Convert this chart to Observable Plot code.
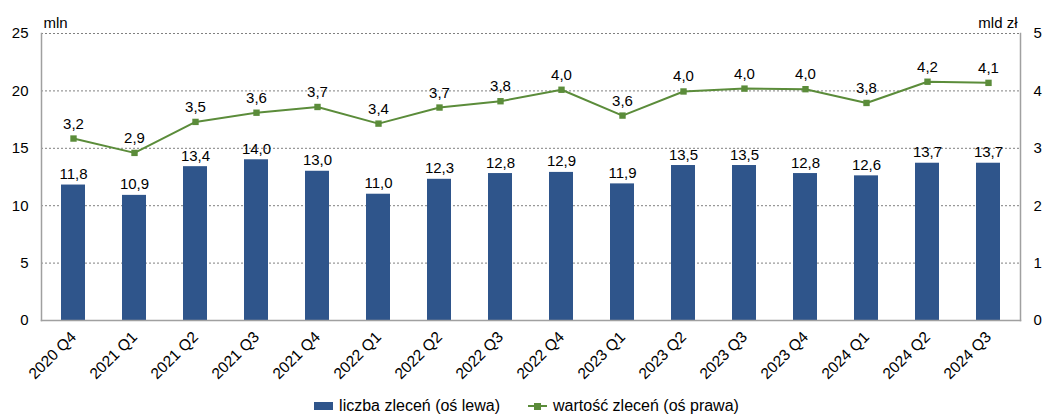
<!DOCTYPE html>
<html>
<head>
<meta charset="utf-8">
<script src="https://cdn.jsdelivr.net/npm/d3@7"></script>
<script src="https://cdn.jsdelivr.net/npm/@observablehq/plot@0.6"></script>
<style>
  body { margin: 0; background: #fff; font-family: "Liberation Sans", Arial, sans-serif; }
  #legend { display: flex; justify-content: center; align-items: center; height: 20px; font-size: 16px; color: #000; padding-left: 8px; }
  .item { display: flex; align-items: center; margin: 0 14px; }
  .sw-bar { width: 19px; height: 8px; background: #2f558b; margin-right: 6px; }
  .sw-line { position: relative; width: 19px; height: 2px; background: #5b8c3a; margin-right: 6px; }
  .sw-line::after { content: ""; position: absolute; left: 6px; top: -2.5px; width: 7px; height: 7px; background: #5b8c3a; }
</style>
</head>
<body>
<div id="chart"></div>
<div id="legend">
  <div class="item"><div class="sw-bar"></div><span>liczba zleceń (oś lewa)</span></div>
  <div class="item"><div class="sw-line"></div><span>wartość zleceń (oś prawa)</span></div>
</div>
<script>
const categories = ["2020 Q4","2021 Q1","2021 Q2","2021 Q3","2021 Q4","2022 Q1","2022 Q2","2022 Q3","2022 Q4","2023 Q1","2023 Q2","2023 Q3","2023 Q4","2024 Q1","2024 Q2","2024 Q3"];
const counts = [11.8,10.9,13.4,14.0,13.0,11.0,12.3,12.8,12.9,11.9,13.5,13.5,12.8,12.6,13.7,13.7];
const values = [3.17,2.92,3.46,3.62,3.72,3.43,3.71,3.82,4.02,3.57,3.99,4.04,4.03,3.79,4.16,4.14];
const leftTicks = [0,5,10,15,20,25];
const rightTicks = [0,1,2,3,4,5];

const ratio = leftTicks[leftTicks.length-1] / rightTicks[rightTicks.length-1];
const data = categories.map((q,i) => ({q, count: counts[i], value: values[i]}));
const fmt = v => v.toFixed(1).replace(".", ",");
const blue = "#2f558b", green = "#5b8c3a", axisGray = "#a0a0a0";

const chart = Plot.plot({
  width: 1045,
  height: 396,
  marginLeft: 41,
  marginRight: 25,
  marginTop: 33,
  marginBottom: 76,
  style: {fontFamily: "'Liberation Sans', Arial, sans-serif", fontSize: "15px", color: "#000", background: "#fff"},
  x: {domain: categories, paddingInner: 0.6, paddingOuter: 0.3, label: null},
  y: {domain: [0, 25], label: null},
  marks: [
    Plot.gridY(leftTicks, {stroke: "#808080", strokeOpacity: 1, strokeDasharray: "2,2", strokeWidth: 1}),
    Plot.barY(data, {x: "q", y: "count", fill: blue}),
    Plot.frame({anchor: "left", stroke: axisGray, strokeWidth: 1.5}),
    Plot.frame({anchor: "right", stroke: axisGray, strokeWidth: 1.5}),
    Plot.frame({anchor: "bottom", stroke: axisGray, strokeWidth: 1.5}),
    Plot.axisY(leftTicks, {anchor: "left", tickSize: 0, tickPadding: 13, label: null, fontSize: 15}),
    Plot.axisY(rightTicks.map(v => v * ratio), {anchor: "right", tickSize: 0, tickPadding: 13, label: null, fontSize: 15, tickFormat: d => String(d / ratio)}),
    Plot.axisX({tickRotate: -45, tickSize: 0, tickPadding: 14, label: null, fontSize: 15.5}),
    Plot.lineY(data, {x: "q", y: d => d.value * ratio, stroke: green, strokeWidth: 2}),
    Plot.dot(data, {x: "q", y: d => d.value * ratio, symbol: "square", fill: green, r: 3.6}),
    Plot.text(data, {x: "q", y: "count", text: d => fmt(d.count), lineAnchor: "bottom", dy: -6, fontSize: 15}),
    Plot.text(data, {x: "q", y: d => d.value * ratio, text: d => fmt(d.value), lineAnchor: "bottom", dy: -10, fontSize: 15}),
    Plot.text(["mln"], {frameAnchor: "top-left", text: d => d, textAnchor: "start", lineAnchor: "bottom", dx: 2, dy: -6, fontSize: 15}),
    Plot.text(["mld zł"], {frameAnchor: "top-right", text: d => d, textAnchor: "end", lineAnchor: "bottom", dx: -3, dy: -6, fontSize: 15})
  ]
});
document.getElementById("chart").appendChild(chart);
</script>
</body>
</html>
